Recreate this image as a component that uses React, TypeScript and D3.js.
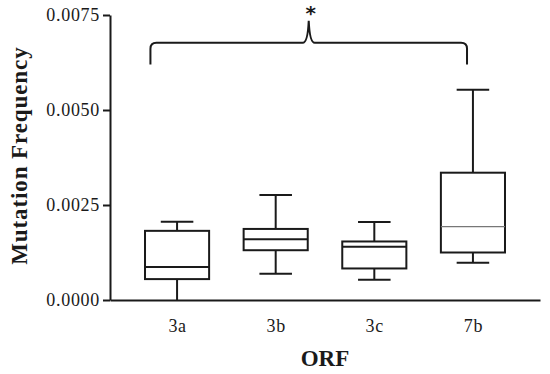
import * as d3 from "d3";
import { useEffect, useRef } from "react";

// ORF categories and box-plot stats
const categories = ["3a", "3b", "3c", "7b"];
const mins = [0.0, 0.00069, 0.00053, 0.00098];
const q1s = [0.00055, 0.00131, 0.00083, 0.00125];
const medians = [0.00087, 0.0016, 0.0014, 0.00193];
const q3s = [0.00182, 0.00187, 0.00154, 0.00335];
const maxs = [0.00206, 0.00276, 0.00205, 0.00553];
const yTicks = [0, 0.0025, 0.005, 0.0075];

const BoxChart = () => {
    const svgRef = useRef<SVGSVGElement | null>(null);

    useEffect(() => {
        if (!svgRef.current) return;

        const width = 550;
        const height = 374;
        const margin = { top: 15, right: 10, bottom: 74, left: 110 };
        const font = "'Liberation Serif', 'Times New Roman', serif";
        const ink = "#1a1a1a";

        const svg = d3.select(svgRef.current)
            .attr("width", width)
            .attr("height", height)
            .style("background", "#fff");

        svg.selectAll("*").remove();

        const x = d3.scalePoint<string>()
            .domain(categories)
            .range([margin.left, width - margin.right])
            .padding(0.68);

        const y = d3.scaleLinear()
            .domain([0, 0.0075])
            .range([height - margin.bottom, margin.top]);

        const step = x.step();
        const boxW = step * 0.65;
        const capW = step * 0.33;

        const data = categories.map((c, i) => ({
            c, min: mins[i], q1: q1s[i], med: medians[i], q3: q3s[i], max: maxs[i]
        }));

        const g = svg.append("g")
            .attr("stroke", ink)
            .attr("stroke-width", 2)
            .attr("fill", "none");

        const box = g.selectAll("g.box")
            .data(data)
            .join("g")
            .attr("class", "box");

        // whiskers
        box.append("line")
            .attr("x1", d => x(d.c)!)
            .attr("x2", d => x(d.c)!)
            .attr("y1", d => y(d.max))
            .attr("y2", d => y(d.q3));
        box.append("line")
            .attr("x1", d => x(d.c)!)
            .attr("x2", d => x(d.c)!)
            .attr("y1", d => y(d.q1))
            .attr("y2", d => y(d.min));
        // caps
        box.append("line")
            .attr("x1", d => x(d.c)! - capW / 2)
            .attr("x2", d => x(d.c)! + capW / 2)
            .attr("y1", d => y(d.max))
            .attr("y2", d => y(d.max));
        box.filter(d => d.min > 0).append("line")
            .attr("x1", d => x(d.c)! - capW / 2)
            .attr("x2", d => x(d.c)! + capW / 2)
            .attr("y1", d => y(d.min))
            .attr("y2", d => y(d.min));
        // boxes
        box.append("rect")
            .attr("x", d => x(d.c)! - boxW / 2)
            .attr("width", boxW)
            .attr("y", d => y(d.q3))
            .attr("height", d => y(d.q1) - y(d.q3))
            .attr("fill", "#fff");
        // medians (7b is drawn thin and grey in the source)
        box.append("line")
            .attr("x1", d => x(d.c)! - boxW / 2)
            .attr("x2", d => x(d.c)! + boxW / 2)
            .attr("y1", d => y(d.med))
            .attr("y2", d => y(d.med))
            .attr("stroke", d => d.c === "7b" ? "#777" : ink)
            .attr("stroke-width", d => d.c === "7b" ? 1.2 : 2);

        // y axis
        const yAxis = svg.append("g")
            .attr("transform", `translate(${margin.left},0)`)
            .call(d3.axisLeft(y)
                .tickValues(yTicks)
                .tickFormat(d3.format(".4f"))
                .tickSize(7)
                .tickSizeOuter(0)
                .tickPadding(3));
        yAxis.selectAll("path, line").attr("stroke", ink).attr("stroke-width", 2);
        yAxis.selectAll("text")
            .attr("fill", ink)
            .style("font-family", font)
            .style("font-size", "18px")
            .style("letter-spacing", "0.7px");

        // x axis
        const xAxis = svg.append("g")
            .attr("transform", `translate(0,${height - margin.bottom})`)
            .call(d3.axisBottom(x).tickSize(0).tickPadding(19));
        xAxis.selectAll("path").attr("stroke", ink).attr("stroke-width", 2);
        xAxis.selectAll("text")
            .attr("fill", ink)
            .style("font-family", font)
            .style("font-size", "18px")
            .style("letter-spacing", "0.7px");

        // axis titles
        svg.append("text")
            .attr("transform", `translate(27,${y(0.0038)}) rotate(-90)`)
            .attr("text-anchor", "middle")
            .attr("fill", ink)
            .style("font-family", font)
            .style("font-weight", "bold")
            .style("font-size", "23px")
            .style("letter-spacing", "0.9px")
            .text("Mutation Frequency");

        svg.append("text")
            .attr("x", (margin.left + width - margin.right) / 2)
            .attr("y", height - 8)
            .attr("text-anchor", "middle")
            .attr("fill", ink)
            .style("font-family", font)
            .style("font-weight", "bold")
            .style("font-size", "23px")
            .text("ORF");

        // significance brace spanning 3a..7b
        const xl = x("3a")! - step * 0.27;
        const xr = x("7b")! - step * 0.06;
        const xm = (xl + xr) / 2;
        const yb = y(0.0062);
        const yh = y(0.00677);
        const yp = y(0.00735);
        const r = 6;
        const brace = d3.path();
        brace.moveTo(xl, yb);
        brace.lineTo(xl, yh + r);
        brace.quadraticCurveTo(xl, yh, xl + r, yh);
        brace.lineTo(xm - 6, yh);
        brace.quadraticCurveTo(xm - 1, yh, xm, yp);
        brace.quadraticCurveTo(xm + 1, yh, xm + 6, yh);
        brace.lineTo(xr - r, yh);
        brace.quadraticCurveTo(xr, yh, xr, yh + r);
        brace.lineTo(xr, yb);
        svg.append("path")
            .attr("d", brace.toString())
            .attr("fill", "none")
            .attr("stroke", ink)
            .attr("stroke-width", 2);

        svg.append("text")
            .attr("x", xm + 2)
            .attr("y", yp - 1)
            .attr("text-anchor", "middle")
            .attr("fill", ink)
            .style("font-family", "'DejaVu Sans', sans-serif")
            .style("font-weight", "bold")
            .style("font-size", "20px")
            .text("*");
    }, []);

    return <svg ref={svgRef} style={{ position: "absolute", left: 0, top: 0 }}></svg>;
};

export default function App() {
    return <BoxChart />;
}
